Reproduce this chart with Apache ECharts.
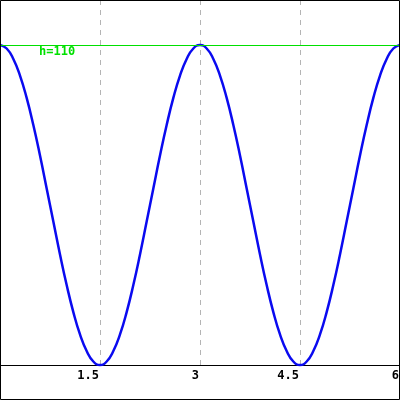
<!DOCTYPE html>
<html><head><meta charset="utf-8">
<script src="https://cdn.jsdelivr.net/npm/echarts@6/dist/echarts.min.js"></script>
<style>html,body{margin:0;padding:0;background:#fff}#c{width:400px;height:400px}</style>
</head><body><div id="c"></div>
<script>
const xValues = [0,0.1,0.2,0.3,0.4,0.5,0.6,0.7,0.8,0.9,1.0,1.1,1.2,1.3,1.4,1.5,1.6,1.7,1.8,1.9,2.0,2.1,2.2,2.3,2.4,2.5,2.6,2.7,2.8,2.9,3.0,
 3.1,3.2,3.3,3.4,3.5,3.6,3.7,3.8,3.9,4.0,4.1,4.2,4.3,4.4,4.5,4.6,4.7,4.8,4.9,5.0,5.1,5.2,5.3,5.4,5.5,5.6,5.7,5.8,5.9,6.0];
const hValues = [110,108.8,105.2,99.5,91.8,82.5,72.0,60.7,49.3,38.0,27.5,18.2,10.5,4.8,1.2,0,1.2,4.8,10.5,18.2,27.5,38.0,49.3,60.7,72.0,82.5,91.8,99.5,105.2,108.8,110,
 108.8,105.2,99.5,91.8,82.5,72.0,60.7,49.3,38.0,27.5,18.2,10.5,4.8,1.2,0,1.2,4.8,10.5,18.2,27.5,38.0,49.3,60.7,72.0,82.5,91.8,99.5,105.2,108.8,110];
const tickLabels = ['', '1.5', '3', '4.5', '6'];
const hLevel = 110;
const hLabel = 'h=110';

const chart = echarts.init(document.getElementById('c'), null, {renderer: 'canvas'});
chart.setOption({
  animation: false,
  backgroundColor: '#fff',
  grid: {left: 0, right: 0, top: 0, bottom: 35, containLabel: false, outerBoundsMode: 'none'},
  xAxis: {
    type: 'value', min: 0, max: 6, interval: 1.5,
    axisLine: {show: true, onZero: false, lineStyle: {color: '#000', width: 1}},
    axisTick: {show: false},
    axisLabel: {
      color: '#000', fontFamily: 'DejaVu Sans Mono', fontWeight: 'bold', fontSize: 12,
      align: 'right', margin: 5, padding: [0, 1, 0, 0], showMinLabel: true, showMaxLabel: true,
      formatter: (v) => tickLabels[Math.round(v / 1.5)]
    },
    splitLine: {show: true, lineStyle: {color: '#b4b4b4', type: [5, 5], width: 1}}
  },
  yAxis: {
    type: 'value', min: 0, max: 125.47,
    axisLine: {show: false}, axisTick: {show: false}, axisLabel: {show: false},
    splitLine: {show: false}
  },
  series: [{
    type: 'line',
    data: xValues.map((x, i) => [x, hValues[i]]),
    showSymbol: false,
    smooth: true,
    clip: false,
    lineStyle: {color: '#0a0af0', width: 2.5},
    markLine: {
      symbol: 'none', silent: true,
      lineStyle: {color: '#00e000', type: 'solid', width: 1},
      label: {
        show: true, position: 'insideStartBottom', formatter: hLabel,
        color: '#00e000', fontFamily: 'DejaVu Sans Mono', fontWeight: 'bold', fontSize: 12,
        distance: [39, 1]
      },
      data: [{yAxis: hLevel}]
    },
    z: 3
  }],
  graphic: [{
    type: 'rect', z: 100, silent: true,
    shape: {x: 0.5, y: 0.5, width: 399, height: 399},
    style: {fill: 'none', stroke: '#000', lineWidth: 1}
  }]
});
</script></body></html>
